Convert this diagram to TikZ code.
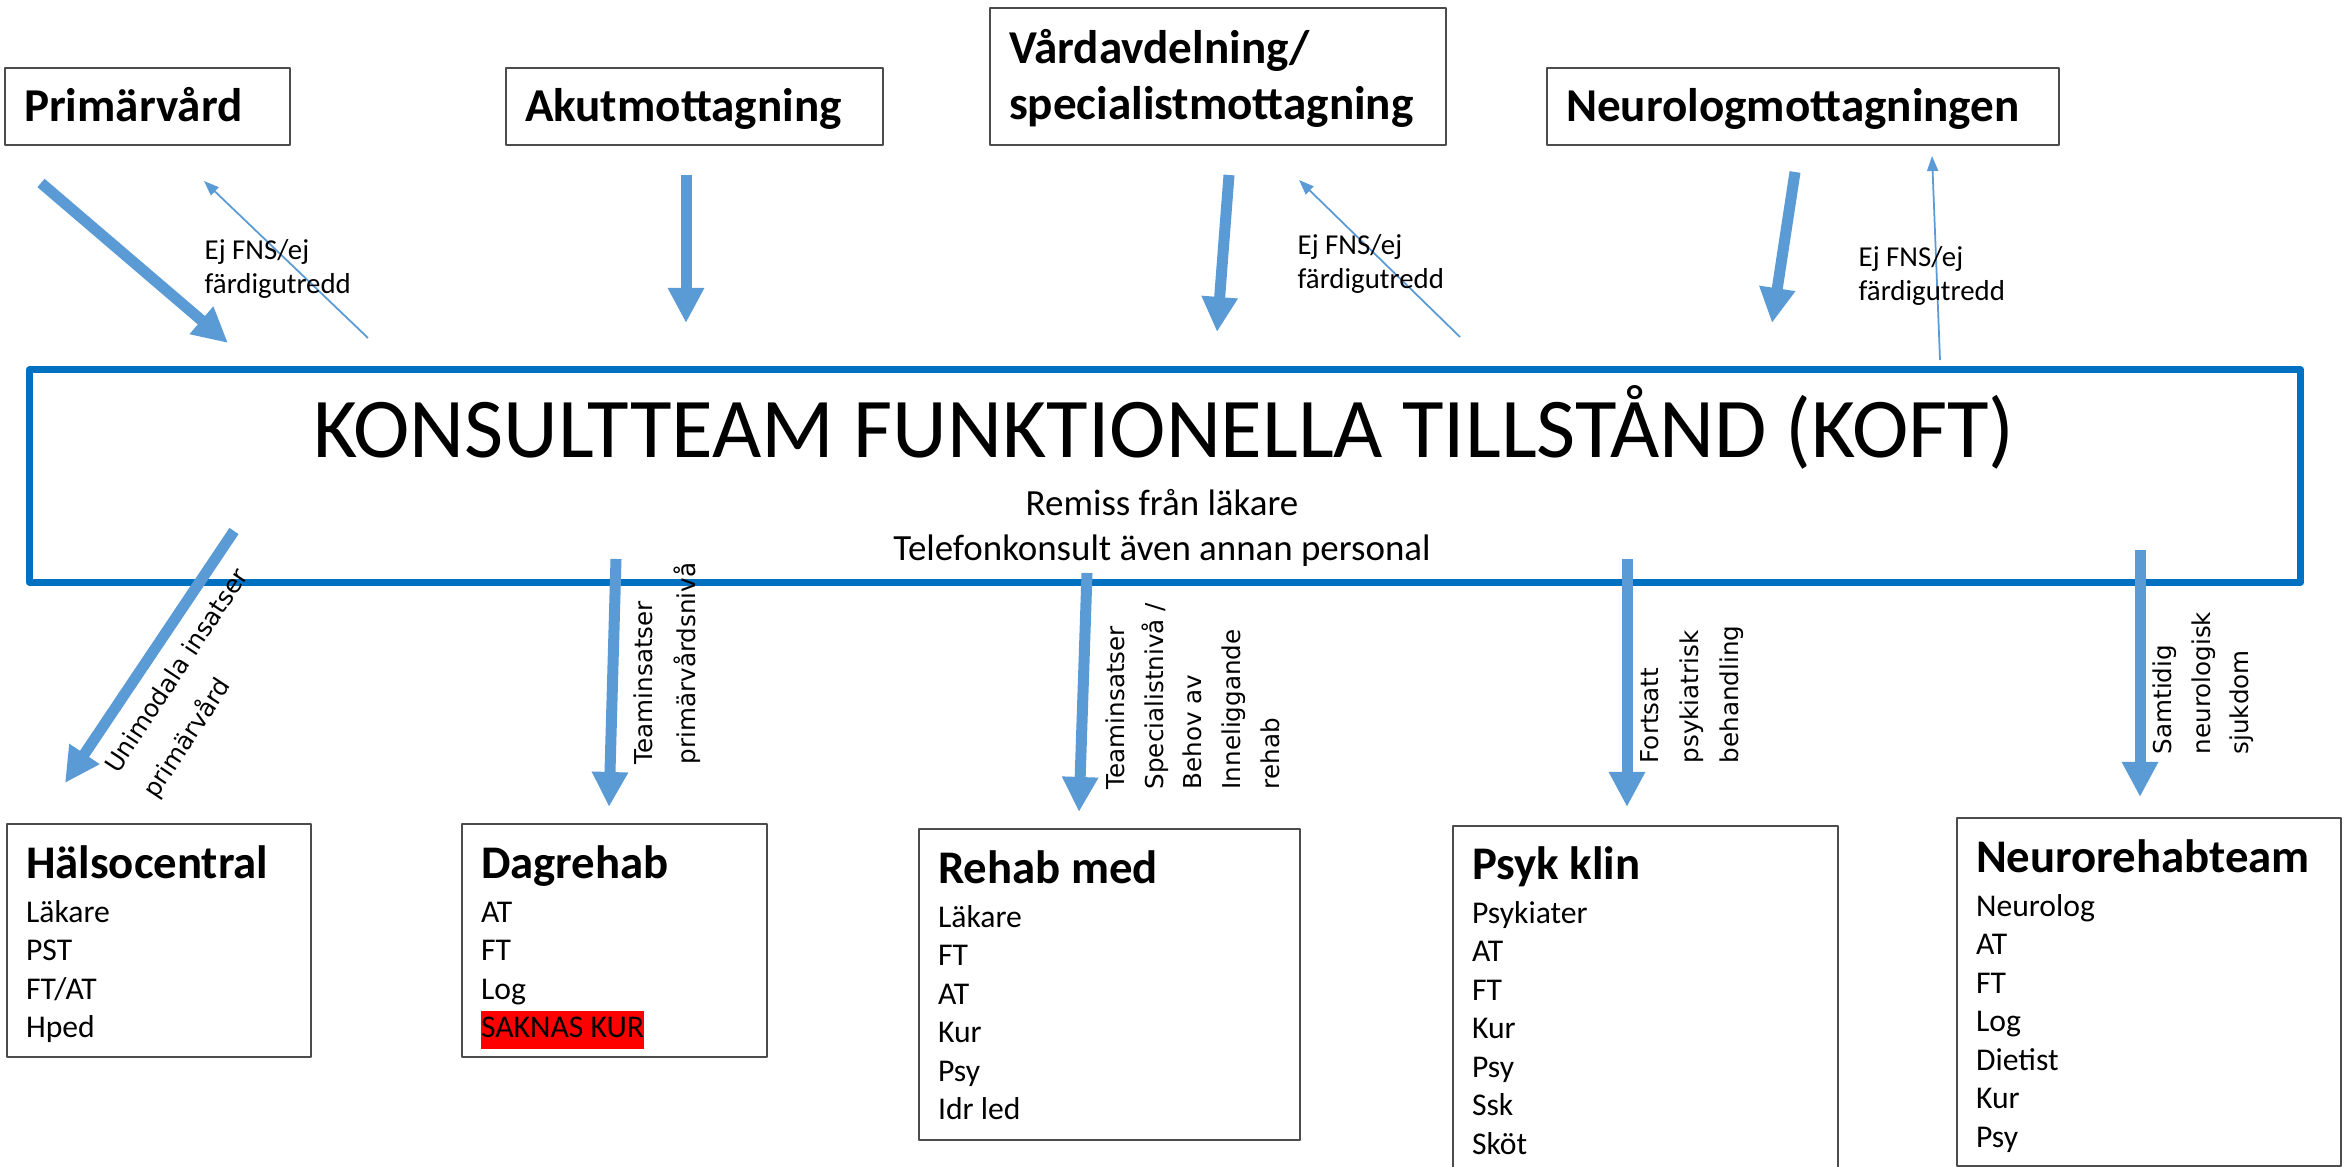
\documentclass[tikz,border=0pt]{standalone}
\usepackage{fontspec}
\setmainfont{Carlito}
\newfontfamily\flowfont{DejaVu Sans}
\usetikzlibrary{arrows.meta}
\definecolor{koftblue}{HTML}{0070C0}
\definecolor{flowblue}{HTML}{5B9BD5}

\begin{document}
\begin{tikzpicture}[x=0.01cm,y=-0.01cm,line join=round,
    unit/.style={draw=black!70,line width=0.6pt,anchor=north west,inner xsep=0.19cm,inner ysep=0pt,
        align=flush left,font=\bfseries\fontsize{13.4}{15.9}\selectfont},
    team/.style={draw=black!70,line width=0.6pt,anchor=north west,inner xsep=0.19cm,inner ysep=0pt,
        align=flush left,text height=15.4pt,font=\fontsize{9}{10.95}\selectfont},
    inarrow/.style={flowblue,line width=0.11cm,-{Triangle[width=0.34cm,length=0.35cm]}},
    returnarrow/.style={flowblue,line width=0.5pt,-{Triangle[width=0.11cm,length=0.15cm]}},
    returnlabel/.style={anchor=base west,inner sep=0pt,text width=1.7cm,align=flush left,
        font=\fontsize{8.2}{9.4}\selectfont},
    flowlabel/.style={inner sep=0pt,align=flush left,font=\flowfont\fontsize{7}{11}\selectfont}]
    \useasboundingbox (0,0) rectangle (2349,1167);
    \fill[white] (0,0) rectangle (2349,1167);

    % remitterande enheter
    \node[unit,text width=2.47cm,text height=15.1pt,text depth=6.8pt] (prim) at (4,67) {Primärvård};
    \node[unit,text width=3.39cm,text height=15.1pt,text depth=6.8pt] (akut) at (505,67) {Akutmottagning};
    \node[unit,text width=4.18cm,text height=15.65pt,text depth=23.3pt] (vard) at (989,7) {Vårdavdelning/\\specialistmottagning};
    \node[unit,text width=4.74cm,text height=15.1pt,text depth=6.8pt] (neuro) at (1546,67) {Neurologmottagningen};

    % konsultteamet
    \node[draw=koftblue,line width=2pt,minimum width=22.7cm,minimum height=2.12cm,inner sep=0pt] (koft) at (1165,476) {};
    \node[anchor=base,inner sep=0pt,font=\fontsize{24.2}{28}\selectfont] (kofttitle) at (1164,458) {KONSULTTEAM FUNKTIONELLA TILLSTÅND (KOFT)};
    \node[anchor=base,inner sep=0pt,font=\fontsize{10.5}{12.8}\selectfont] (remiss) at (1162,515) {Remiss från läkare};
    \node[anchor=base,inner sep=0pt,font=\fontsize{10.5}{12.8}\selectfont] (telefon) at (1162,560) {Telefonkonsult även annan personal};

    % mottagande team
    \node[team,text width=2.66cm,text depth=50.9pt] (halsa) at (6,823)
        {{\bfseries\fontsize{13.3}{16}\selectfont Hälsocentral}\\[1.6pt]Läkare\\PST\\FT/AT\\Hped};
    \node[team,text width=2.67cm,text depth=50.9pt] (dagrehab) at (461,823)
        {{\bfseries\fontsize{13.3}{16}\selectfont Dagrehab}\\[1.6pt]AT\\FT\\Log\\{\setlength{\fboxsep}{0pt}\colorbox{red}{\strut SAKNAS KUR}}};
    \node[team,text width=3.43cm,text depth=73.1pt] (rehabmed) at (918,828)
        {{\bfseries\fontsize{13.3}{16}\selectfont Rehab med}\\[1.6pt]Läkare\\FT\\AT\\Kur\\Psy\\Idr led};
    \node[team,text width=3.47cm,text height=15.1pt,text depth=85.4pt] (psyk) at (1452,825)
        {{\bfseries\fontsize{13.3}{16}\selectfont Psyk klin}\\[1.6pt]Psykiater\\AT\\FT\\Kur\\Psy\\Ssk\\Sköt};
    \node[team,text width=3.46cm,text depth=83.6pt] (neurorehab) at (1956,817)
        {{\bfseries\fontsize{13.3}{16}\selectfont Neurorehabteam}\\[1.6pt]Neurolog\\AT\\FT\\Log\\Dietist\\Kur\\Psy};

    % pilarnas ändpunkter
    \coordinate (prim out) at (41,183);   \coordinate (koft in1) at (228,343);
    \coordinate (koft back1) at (368,338); \coordinate (prim back) at (204,181);
    \coordinate (akut out) at (686,175);   \coordinate (koft in2) at (686,323);
    \coordinate (vard out) at (1229,175);  \coordinate (koft in3) at (1217,332);
    \coordinate (koft back3) at (1460,337); \coordinate (vard back) at (1299,180);
    \coordinate (neuro out) at (1795,172); \coordinate (koft in4) at (1772,323);
    \coordinate (koft back4) at (1940,360); \coordinate (neuro back) at (1932,156);
    \coordinate (koft out1) at (234,531);  \coordinate (halsa in) at (65,783);
    \coordinate (koft out2) at (616,559);  \coordinate (dagrehab in) at (609,807);
    \coordinate (koft out3) at (1087,573); \coordinate (rehabmed in) at (1079,812);
    \coordinate (koft out4) at (1627,559); \coordinate (psyk in) at (1627,807);
    \coordinate (koft out5) at (2140,550); \coordinate (neurorehab in) at (2140,797);

    \draw[inarrow] (prim out) -- (koft in1);
    \draw[inarrow] (akut out) -- (koft in2);
    \draw[inarrow] (vard out) -- (koft in3);
    \draw[inarrow] (neuro out) -- (koft in4);
    \draw[returnarrow] (koft back1) -- (prim back);
    \draw[returnarrow] (koft back3) -- (vard back);
    \draw[returnarrow] (koft back4) -- (neuro back);
    \node[returnlabel] (back1) at (204,260) {Ej FNS/ej\\färdigutredd};
    \node[returnlabel] (back3) at (1297,255) {Ej FNS/ej\\färdigutredd};
    \node[returnlabel] (back4) at (1858,267) {Ej FNS/ej\\färdigutredd};

    \draw[inarrow] (koft out1) -- (halsa in);
    \draw[inarrow] (koft out2) -- (dagrehab in);
    \draw[inarrow] (koft out3) -- (rehabmed in);
    \draw[inarrow] (koft out4) -- (psyk in);
    \draw[inarrow] (koft out5) -- (neurorehab in);
    \node[flowlabel,rotate=56.6,font=\flowfont\fontsize{7}{13}\selectfont] (why1) at (197,684) {Unimodala insatser\\primärvård};
    \node[flowlabel,rotate=90,anchor=north west,font=\flowfont\fontsize{7}{12.2}\selectfont] (why2) at (633,765) {Teaminsatser\\primärvårdsnivå};
    \node[flowlabel,rotate=90,anchor=north west] (why3) at (1105,790) {Teaminsatser\\Specialistnivå /\\Behov av\\Inneliggande\\rehab};
    \node[flowlabel,rotate=90,anchor=north west,font=\flowfont\fontsize{7}{11.4}\selectfont] (why4) at (1640,764) {Fortsatt\\psykiatrisk\\behandling};
    \node[flowlabel,rotate=90,anchor=north west] (why5) at (2152,755) {Samtidig\\neurologisk\\sjukdom};
\end{tikzpicture}
\end{document}
